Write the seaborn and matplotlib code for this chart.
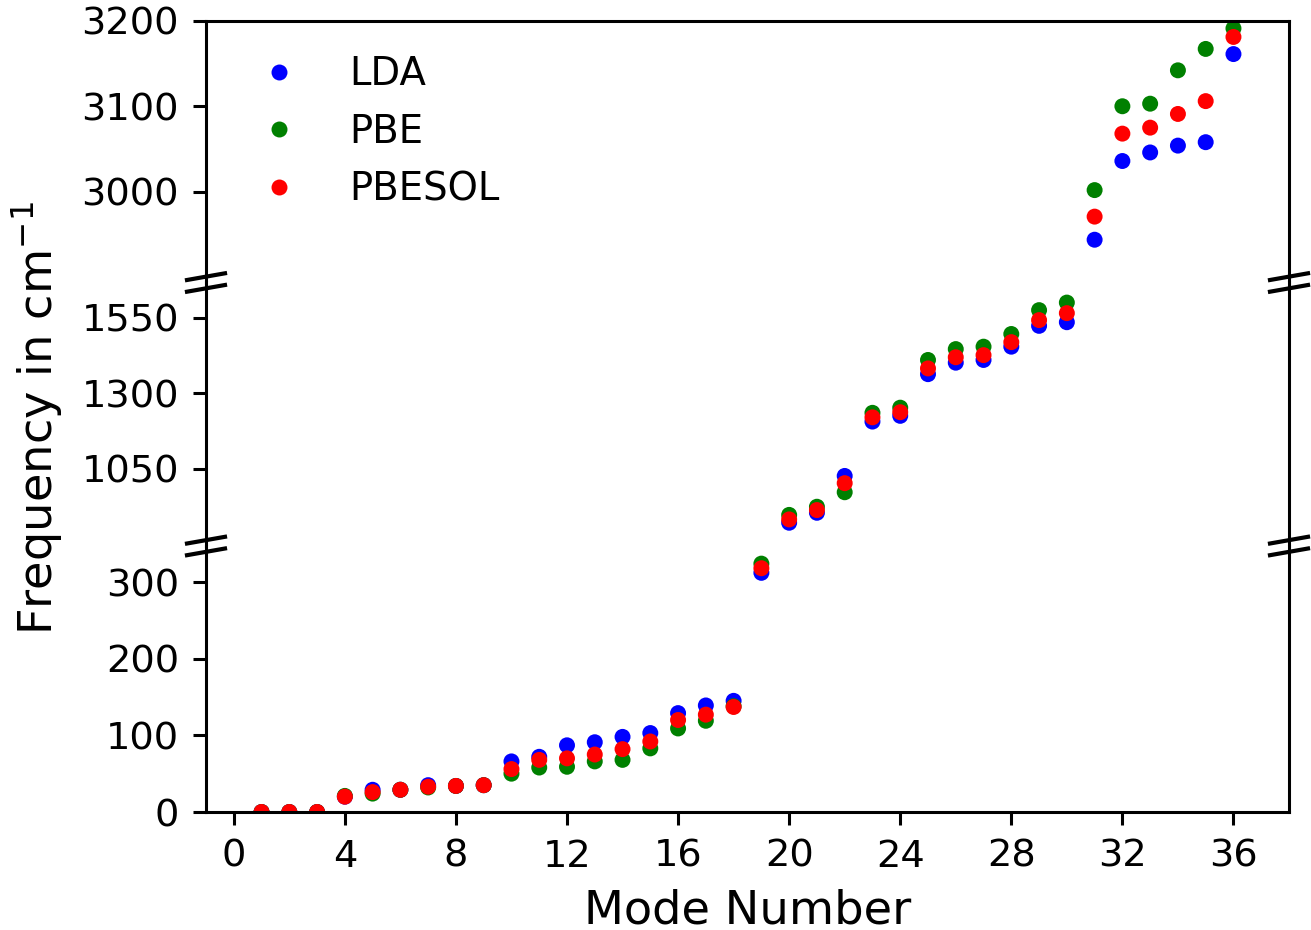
import matplotlib
matplotlib.use("Agg")
import matplotlib.pyplot as plt
from matplotlib.lines import Line2D
import pandas as pd
import seaborn as sns

## Data ##
modes = list(range(1, 37))
lda = [0, 0, 0, 20, 29, 29, 35, 34, 35, 66, 72, 87, 91, 98, 103, 129, 139, 145,
       312, 872, 905, 1027, 1207, 1226, 1364, 1402, 1411, 1455, 1524, 1536,
       2944, 3036, 3046, 3054, 3058, 3161]
pbe = [0, 0, 0, 21, 24, 29, 32, 34, 35, 50, 58, 59, 66, 68, 83, 109, 119, 138,
       324, 898, 925, 973, 1236, 1253, 1411, 1447, 1455, 1497, 1576, 1601,
       3002, 3100, 3103, 3142, 3167, 3191]
pbesol = [0, 0, 0, 20, 26, 29, 33, 34, 35, 56, 68, 70, 75, 82, 92, 120, 127, 137,
          318, 883, 914, 1003, 1221, 1238, 1383, 1420, 1427, 1470, 1543, 1566,
          2971, 3068, 3075, 3091, 3106, 3181]
methods = ["LDA", "PBE", "PBESOL"]
colors = {"LDA": "blue", "PBE": "green", "PBESOL": "red"}

x_ticks = [0, 4, 8, 12, 16, 20, 24, 28, 32, 36]
y_ticks_top = [3000, 3100, 3200]
y_ticks_mid = [1050, 1300, 1550]
y_ticks_bot = [0, 100, 200, 300]

df = pd.concat([
    pd.DataFrame({"Mode": modes, "Freq": vals, "Method": m})
    for m, vals in zip(methods, [lda, pbe, pbesol])
], ignore_index=True)

plt.rcParams["axes.linewidth"] = 1.1

W, H = 1311, 930
dpi = 200
fig = plt.figure(figsize=(W / dpi, H / dpi), dpi=dpi)

left, right = 206, 1289
y_top, b1, b2, y_bot = 20.7, 282.5, 546, 812


def box(t, b):
    return [left / W, 1 - b / H, (right - left) / W, (b - t) / H]


ax_top = fig.add_axes(box(y_top, b1))
ax_mid = fig.add_axes(box(b1, b2))
ax_bot = fig.add_axes(box(b2, y_bot))

for ax in [ax_top, ax_mid, ax_bot]:
    sns.scatterplot(data=df, x="Mode", y="Freq", hue="Method", palette=colors,
                    s=33, linewidth=0, ax=ax, legend=(ax is ax_top))
    ax.set_xlim(-1, 38)
    ax.set_xlabel("")
    ax.set_ylabel("")
    ax.tick_params(labelsize=13.8, length=4.7, width=1.1, pad=5.0)

ax_top.set_ylim(2894, 3200)
ax_mid.set_ylim(795, 1667.5)
ax_bot.set_ylim(0, 347)
ax_top.set_yticks(y_ticks_top)
ax_mid.set_yticks(y_ticks_mid)
ax_bot.set_yticks(y_ticks_bot)

ax_top.spines["bottom"].set_visible(False)
ax_mid.spines["top"].set_visible(False)
ax_mid.spines["bottom"].set_visible(False)
ax_bot.spines["top"].set_visible(False)
ax_top.tick_params(axis="x", bottom=False, labelbottom=False)
ax_mid.tick_params(axis="x", bottom=False, labelbottom=False)
ax_bot.set_xticks(x_ticks)
ax_bot.set_xlabel("Mode Number", fontsize=16.7, labelpad=5)

sns.move_legend(ax_top, "upper left", frameon=False, title=None, fontsize=13.9)

fig.text(37 / W, 1 - 418 / H, "Frequency in cm$^{-1}$", rotation=90,
         ha="center", va="center", fontsize=16.7)

# break marks
for cy in [b1, b2]:
    for cx in [left, right]:
        for dy in [-5.85, 5.85]:
            xs = [(cx - 19) / W, (cx + 19) / W]
            ys = [1 - (cy + dy + 3.35) / H, 1 - (cy + dy - 3.35) / H]
            fig.add_artist(Line2D(xs, ys, color="black", lw=1.5))

fig.savefig("out.png", dpi=dpi)
